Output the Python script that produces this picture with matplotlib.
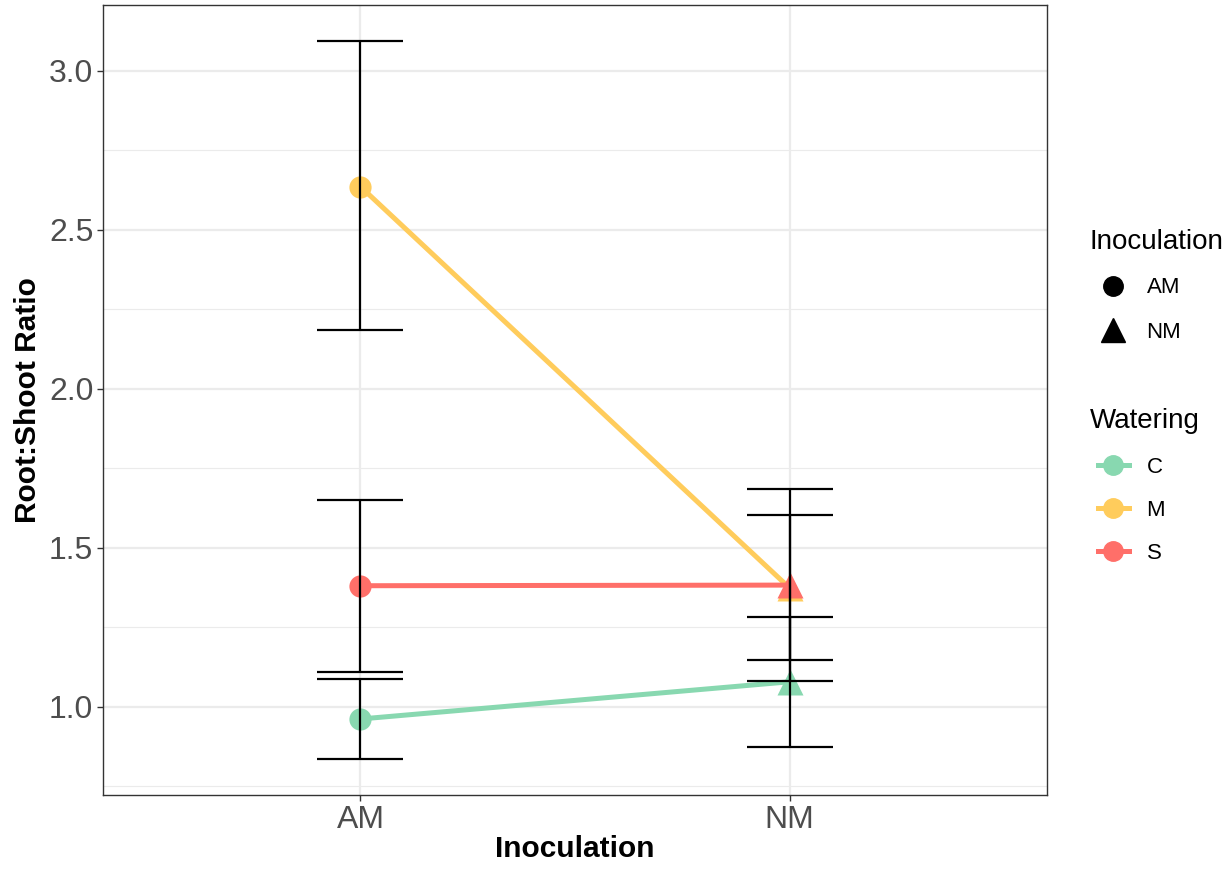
import matplotlib
matplotlib.use("Agg")
import matplotlib.pyplot as plt
from matplotlib.lines import Line2D
import numpy as np

plt.rcParams['font.family'] = ['Liberation Sans', 'DejaVu Sans']

inoculation = ["AM", "NM"]
watering = ["C", "M", "S"]
means = {"C": [0.962, 1.079], "M": [2.636, 1.374], "S": [1.381, 1.383]}
lower = {"C": [0.836, 0.874], "M": [2.186, 1.146], "S": [1.111, 1.082]}
upper = {"C": [1.088, 1.284], "M": [3.094, 1.602], "S": [1.651, 1.685]}
colors = {"C": "#88D8B0", "M": "#FFCC5C", "S": "#FF6F69"}
markers = ["o", "^"]

fig = plt.figure(figsize=(12.3, 8.73), dpi=100)
ax = fig.add_axes([103/1230, 1-795/873, (1047-103)/1230, (795-5)/873])

x = np.arange(1, len(inoculation)+1)
for w in watering:
    ax.plot(x, means[w], color=colors[w], lw=3.6, zorder=3, solid_capstyle='butt')
for w in watering:
    for i in range(len(x)):
        ax.plot(x[i], means[w][i], marker=markers[i], color=colors[w],
                markersize=16 if i == 0 else 19, ls='none', zorder=4, mec='none')
for w in watering:
    for i in range(len(x)):
        m = means[w][i]
        ax.errorbar(x[i], m, yerr=[[m-lower[w][i]], [upper[w][i]-m]], fmt='none',
                    ecolor='black', elinewidth=1.6, capsize=31, capthick=1.6, zorder=5)

ax.set_xlim(0.4, 2.6)
ax.set_ylim(0.723, 3.207)
ax.set_xticks(x)
ax.set_xticklabels(inoculation)
ax.set_yticks([1.0, 1.5, 2.0, 2.5, 3.0])
ax.set_yticks([0.75, 1.25, 1.75, 2.25, 2.75], minor=True)
ax.grid(True, which='major', color='#EBEBEB', lw=1.6, zorder=0)
ax.grid(True, which='minor', axis='y', color='#EBEBEB', lw=0.8, zorder=0)
ax.set_axisbelow(True)
for s in ax.spines.values():
    s.set_color('#333333')
    s.set_linewidth(1.0)
ax.tick_params(axis='both', which='major', labelsize=23, labelcolor='#4D4D4D',
               color='#333333', length=4, width=1, pad=3)
ax.tick_params(axis='y', which='minor', length=0)
ax.set_xlabel("Inoculation", fontsize=21.5, fontweight='bold', labelpad=0)
ax.set_ylabel("Root:Shoot Ratio", fontsize=21.5, fontweight='bold', labelpad=5)

# legend titles
fig.text(1090/1230, 1-242/873, "Inoculation", fontsize=20, ha='left', va='center')
fig.text(1090/1230, 1-421/873, "Watering", fontsize=20, ha='left', va='center')

h1 = [Line2D([], [], marker=markers[i], color='black', ls='none', markersize=14 if i == 0 else 17)
      for i in range(2)]
fig.legend(h1, inoculation, loc='center left',
           bbox_to_anchor=(1077.6/1230, 1-310/873), frameon=False,
           fontsize=16, handlelength=1.4, labelspacing=1.04,
           handletextpad=0.8)
h2 = [Line2D([], [], marker='o', color=colors[w], lw=3.6, markersize=14) for w in watering]
fig.legend(h2, watering, loc='center left',
           bbox_to_anchor=(1077.6/1230, 1-510.5/873), frameon=False,
           fontsize=16, handlelength=1.4, labelspacing=1.0,
           handletextpad=0.8)

fig.savefig("out.png", dpi=100)
